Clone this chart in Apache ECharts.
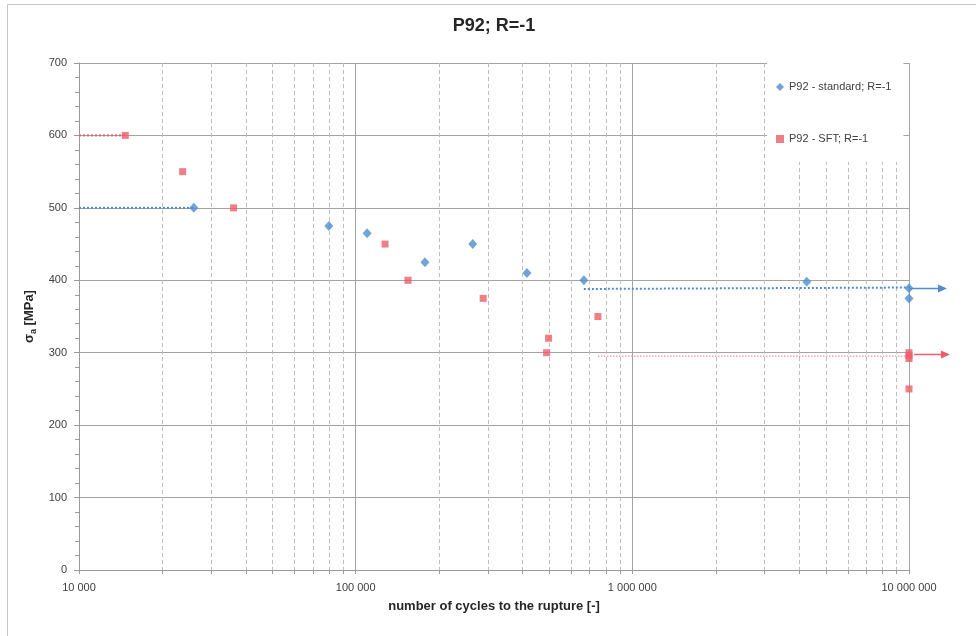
<!DOCTYPE html>
<html>
<head>
<meta charset="utf-8">
<script src="https://cdn.jsdelivr.net/npm/echarts@6/dist/echarts.min.js"></script>
<style>html,body{margin:0;padding:0;background:#fff;}#c{width:976px;height:636px;}</style>
</head>
<body>
<div id="c"></div>
<script>
// ---- data ----
const titleText = 'P92; R=-1';
const stdName = 'P92 - standard; R=-1';
const sftName = 'P92 - SFT; R=-1';
const stdN = [26000, 80000, 110000, 178000, 265000, 416000, 668000, 4270000, 10000000, 10000000];
const stdS = [500, 475, 465, 425, 450, 410, 400, 398, 389, 375];
const sftN = [14700, 23700, 36200, 127700, 154600, 289000, 498000, 490000, 751000, 10000000, 10000000, 10000000, 10000000];
const sftS = [600, 550, 500, 450, 400, 375, 320, 300, 350, 300, 296, 292, 250];
// run-out guide lines (dotted) and arrows
const stdLeftN = [10000, 26000];   const stdLeftS = [500, 500];
const sftLeftN = [10000, 14700];   const sftLeftS = [600, 600];
const stdRightN = [668000, 10000000]; const stdRightS = [388, 390];
const sftRightN = [751000, 10000000]; const sftRightS = [295, 295];
const stdArrowN = [10000000, 13720000]; const stdArrowS = [389, 389];
const sftArrowN = [10430000, 14060000]; const sftArrowS = [298, 298];
// axes
const xMin = 10000, xMax = 10000000;
const yMin = 0, yMax = 700, yStep = 100;
const minorTicks = [20000,30000,40000,50000,60000,70000,80000,90000,
  200000,300000,400000,500000,600000,700000,800000,900000,
  2000000,3000000,4000000,5000000,6000000,7000000,8000000,9000000];

const BLUE = '#4E8DCF', RED = '#EE5C66';
const FONT = '"Liberation Sans", Arial, sans-serif';
const zip = (a, b) => a.map((v, i) => [v, b[i]]);

function arrowSeries(n, s, color) {
  return {
    type: 'custom', silent: true, clip: false, z: 4,
    data: [[n[0], s[0], n[1], s[1]]],
    encode: { x: [0, 2], y: [1, 3] },
    renderItem: function (params, api) {
      const p0 = api.coord([api.value(0), api.value(1)]);
      const p1 = api.coord([api.value(2), api.value(3)]);
      const head = 9, half = 4;
      const y = Math.round(p0[1]) + 0.5;
      return {
        type: 'group',
        children: [
          { type: 'line', shape: { x1: p0[0], y1: y, x2: p1[0] - head + 1, y2: y },
            style: { stroke: color, lineWidth: 1.5 } },
          { type: 'polygon', shape: { points: [[p1[0], y], [p1[0] - head, y - half], [p1[0] - head, y + half]] },
            style: { fill: color } }
        ]
      };
    }
  };
}

const chart = echarts.init(document.getElementById('c'), null, { renderer: 'canvas' });
chart.setOption({
  animation: false,
  backgroundColor: '#fff',
  textStyle: { fontFamily: FONT },
  graphic: [
    { type: 'line', silent: true, z: -10, shape: { x1: 7.5, y1: 4.5, x2: 976, y2: 4.5 },
      style: { stroke: '#c4c4c4', lineWidth: 1 } },
    { type: 'line', silent: true, z: -10, shape: { x1: 7.5, y1: 4.5, x2: 7.5, y2: 636 },
      style: { stroke: '#c4c4c4', lineWidth: 1 } }
  ],
  title: {
    text: titleText, left: 494, top: 17, textAlign: 'center', padding: 0,
    textStyle: { fontSize: 18, fontWeight: 'bold', color: '#262626', fontFamily: FONT }
  },
  legend: {
    orient: 'vertical', left: 767, top: 63,
    data: [stdName, sftName],
    backgroundColor: '#fff',
    padding: [17, 12, 16, 9],
    itemGap: 38, itemWidth: 8, itemHeight: 8,
    textStyle: { fontSize: 11, color: '#404040', fontFamily: FONT, lineHeight: 14 },
    z: 10
  },
  grid: { left: 79, right: 67, top: 63, bottom: 66, containLabel: false },
  xAxis: {
    type: 'log', logBase: 10, min: xMin, max: xMax,
    name: 'number of cycles to the rupture [-]',
    nameLocation: 'middle', nameGap: 30,
    nameTextStyle: { fontSize: 13, fontWeight: 'bold', color: '#262626', fontFamily: FONT },
    axisLine: { show: true, lineStyle: { color: '#9a9a9a' } },
    axisTick: { show: true, length: 4, lineStyle: { color: '#9a9a9a' } },
    axisLabel: {
      margin: 12, fontSize: 11, color: '#404040', fontFamily: FONT,
      formatter: v => String(Math.round(v)).replace(/\B(?=(\d{3})+(?!\d))/g, ' ')
    },
    splitLine: { show: true, lineStyle: { color: '#a3a3a3', width: 1 } },
    minorTick: { show: false }, minorSplitLine: { show: false }
  },
  yAxis: {
    type: 'value', min: yMin, max: yMax, interval: yStep,
    name: '{s|σ}{sub|a}{s| [MPa]}',
    nameLocation: 'middle', nameGap: 33, nameRotate: 90,
    nameTextStyle: {
      fontSize: 13, fontWeight: 'bold', color: '#262626', fontFamily: FONT,
      rich: {
        s: { fontSize: 13, fontWeight: 'bold', color: '#262626', fontFamily: FONT, lineHeight: 16 },
        sub: { fontSize: 9, fontWeight: 'bold', color: '#262626', fontFamily: FONT, verticalAlign: 'bottom', lineHeight: 16, padding: [5, 0, 0, 0] }
      }
    },
    axisLine: { show: true, lineStyle: { color: '#9a9a9a' } },
    axisTick: { show: true, length: 5, lineStyle: { color: '#9a9a9a' } },
    minorTick: { show: true, splitNumber: 5, length: 4, lineStyle: { color: '#9a9a9a' } },
    axisLabel: { margin: 12, fontSize: 11, color: '#404040', fontFamily: FONT },
    splitLine: { show: true, lineStyle: { color: '#a3a3a3', width: 1 } }
  },
  series: [
    {
      type: 'custom', name: 'minor', silent: true, z: 1, clip: false,
      data: minorTicks.map(v => [v, yMin]),
      encode: { x: 0, y: 1 },
      renderItem: function (params, api) {
        const v = api.value(0);
        const b = api.coord([v, yMin]);
        const t = api.coord([v, yMax]);
        const x = Math.round(b[0]) + 0.5;
        return {
          type: 'group',
          children: [
            { type: 'line', shape: { x1: x, y1: t[1], x2: x, y2: b[1] },
              style: { stroke: '#bdbdbd', lineWidth: 1, lineDash: [4, 3] } },
            { type: 'line', shape: { x1: x, y1: b[1], x2: x, y2: b[1] + 4 },
              style: { stroke: '#9a9a9a', lineWidth: 1 } }
          ]
        };
      }
    },
    { type: 'line', name: 'stdLeft', data: zip(stdLeftN, stdLeftS), symbol: 'none', z: 3,
      lineStyle: { color: BLUE, width: 2, type: [2, 2] } },
    { type: 'line', name: 'sftLeft', data: zip(sftLeftN, sftLeftS), symbol: 'none', z: 3,
      lineStyle: { color: RED, width: 2, type: [2, 2] } },
    { type: 'line', name: 'stdRight', data: zip(stdRightN, stdRightS), symbol: 'none', z: 3,
      lineStyle: { color: BLUE, width: 2, type: [2, 2] } },
    { type: 'line', name: 'sftRight', data: zip(sftRightN, sftRightS), symbol: 'none', z: 3,
      lineStyle: { color: '#F4A3A8', width: 1.5, type: [1.5, 1.5] } },
    arrowSeries(stdArrowN, stdArrowS, BLUE),
    arrowSeries(sftArrowN, sftArrowS, RED),
    { type: 'scatter', name: stdName, data: zip(stdN, stdS), symbol: 'diamond', symbolSize: [9, 10], z: 5,
      itemStyle: { color: BLUE } },
    { type: 'scatter', name: sftName, data: zip(sftN, sftS), symbol: 'rect', symbolSize: 7, z: 5,
      itemStyle: { color: RED } }
  ]
});
</script>
</body>
</html>
